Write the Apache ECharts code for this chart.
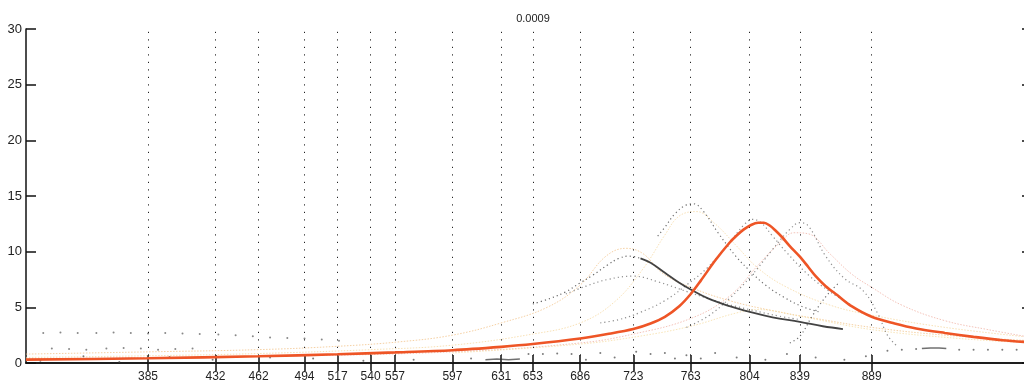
<!DOCTYPE html>
<html>
<head>
<meta charset="utf-8">
<script src="https://cdn.jsdelivr.net/npm/echarts@6/dist/echarts.min.js"></script>
<style>html,body{margin:0;padding:0;background:#fff;}#c{width:1024px;height:385px;}</style>
</head>
<body>
<div id="c"></div>
<script>
// ---- data ----
var chartTitle = '0.0009';
var xTicks = [385, 432, 462, 494, 517, 540, 557, 597, 631, 653, 686, 723, 763, 804, 839, 889];
var xMin = 300, xMax = 1000;
var yMin = 0, yMax = 30, yStep = 5;

var redCurve = [[300,0.3],[385,0.42],[462,0.6],[517,0.78],[557,0.95],[597,1.15],[631,1.45],[653,1.7],[686,2.2],[705,2.6],[723,3.05],[735,3.55],[745,4.15],[755,5.1],[763,6.2],[770,7.4],[780,9.2],[790,10.8],[795,11.45],[800,12.0],[805,12.4],[810,12.6],[814,12.6],[818,12.35],[822,11.9],[827,11.25],[832,10.5],[839,9.55],[845,8.6],[850,7.8],[857,6.9],[865,6.1],[875,5.1],[889,4.15],[905,3.55],[920,3.1],[940,2.7],[960,2.35],[980,2.05],[1000,1.85]];

// faint black dotted traces
var blackA = [[653,5.3],[665,5.8],[676,6.4],[686,7.2],[695,7.9],[705,8.8],[713,9.4],[720,9.6],[728,9.4]];
var blackADense = [[728,9.4],[735,9.0],[745,8.1],[755,7.2],[763,6.6],[775,5.8],[790,5.1],[804,4.6],[820,4.1],[839,3.7],[855,3.3],[869,3.05]];
var blackA2 = [[676,6.2],[690,6.9],[705,7.5],[723,7.8],[740,7.3],[763,6.3],[785,5.4],[804,4.8],[825,4.2],[839,3.9]];
var blackB = [[740,11.4],[745,12.2],[752,13.4],[760,14.2],[765,14.3],[772,13.6],[782,11.7],[795,9.5],[804,8.3],[815,7.0],[828,5.9],[840,5.1],[852,4.6]];
var blackC = [[700,3.6],[713,3.9],[727,4.5],[745,5.6],[760,7.0],[775,8.6],[790,10.8],[800,12.4],[806,12.9],[812,12.6],[820,11.4],[830,9.9],[845,7.9],[860,6.4],[875,5.2]];
var blackD = [[760,3.2],[775,4.2],[790,5.8],[805,7.8],[820,10.2],[832,12.0],[839,12.6],[845,12.3],[857,9.6],[870,7.6],[883,6.5],[893,4.5],[900,2.5],[906,1.6]];
var blackE = [[832,1.8],[839,2.4],[848,4.3],[858,6.1],[867,7.3]];

// pale orange / yellow traces
var paleO1 = [[300,0.8],[385,1.0],[462,1.2],[517,1.5],[560,1.9],[597,2.5],[631,3.6],[663,5.0],[686,7.0],[704,9.6],[718,10.3],[730,9.8],[743,8.1],[763,6.8],[790,5.6],[820,4.7],[850,4.0],[889,3.2],[940,2.5],[1000,2.0]];
var paleO2 = [[300,0.5],[385,0.65],[462,0.85],[540,1.2],[597,1.6],[653,2.6],[686,3.6],[710,5.5],[730,8.5],[745,11.5],[755,13.2],[767,13.6],[780,12.5],[795,10.5],[810,8.5],[830,6.8],[860,5.2],[889,4.3],[940,3.2],[1000,2.3]];
var paleO3 = [[300,0.4],[462,0.6],[597,1.0],[686,1.8],[723,2.6],[763,4.0],[790,6.0],[810,8.8],[825,10.8],[835,11.7],[845,11.6],[860,9.8],[875,8.0],[889,6.8],[910,5.2],[940,3.8],[970,3.0],[1000,2.3]];
var paleO4 = [[597,0.9],[686,1.7],[727,2.4],[763,3.3],[795,4.5],[810,4.8],[839,4.2],[889,3.0],[950,2.2],[1000,1.8]];

// scattered dots
var dotsRowA = [[312,2.7],[324,2.75],[336,2.7],[349,2.7],[361,2.75],[373,2.7],[385,2.65],[397,2.7],[409,2.65],[421,2.6],[434,2.55],[446,2.5],[458,2.4],[470,2.3],[482,2.25],[494,2.2],[506,2.1],[518,2.0]];
var dotsRowB = [[318,1.3],[330,1.25],[342,1.2],[356,1.3],[368,1.35],[380,1.3],[392,1.2],[404,1.25],[416,1.3]];
var dotsBottom = [[310,0.2],[340,0.6],[365,0.1],[400,0.55],[430,0.3],[470,0.5],[500,0.4],[535,0.2],[570,0.3],[610,0.4],[650,0.8],[660,0.8],[670,0.85],[680,0.8],[690,0.3],[700,0.9],[710,0.5],[725,1.0],[735,0.8],[745,0.9],[752,0.4],[760,0.7],[770,0.4],[780,0.9],[795,0.5],[815,0.3],[830,0.8],[850,0.5],[870,0.3],[885,0.6],[900,1.1],[910,1.2],[920,1.25],[950,1.2],[960,1.2],[970,1.2],[980,1.2],[990,1.2],[1000,1.2]];
var denseBottom1 = [[620,0.3],[628,0.35],[636,0.3],[644,0.35]];
var denseBottom2 = [[924,1.3],[930,1.35],[936,1.35],[941,1.3]];

// ---- chart ----
var chart = echarts.init(document.getElementById('c'), null, {renderer: 'canvas'});
var FONT = 'Liberation Sans, Arial, sans-serif';
var axisLineStyle = {color: '#111', width: 1.5};

function dotted(name, data, color, opacity, width) {
  return {name: name, type: 'line', data: data, smooth: 0.4, showSymbol: false, silent: true,
    lineStyle: {color: color, width: width || 1.2, type: [1.2, 3], opacity: opacity}, z: 2};
}
function pale(name, data, color) {
  return {name: name, type: 'line', data: data, smooth: 0.4, showSymbol: false, silent: true,
    lineStyle: {color: color, width: 1, type: [1.5, 1.5], opacity: 0.8}, z: 1};
}

var option = {
  animation: false,
  backgroundColor: '#fff',
  title: {text: chartTitle, left: 528, top: 8, textAlign: 'center',
    textStyle: {fontFamily: FONT, fontSize: 11, fontWeight: 'normal', color: '#222'}},
  grid: {left: 26, width: 1005, top: 29, height: 334, containLabel: false, outerBoundsMode: 'none'},
  xAxis: [
    {type: 'value', min: xMin, max: xMax, position: 'bottom',
      axisLine: {show: true, lineStyle: axisLineStyle},
      axisTick: {show: true, inside: true, length: 8, customValues: xTicks, lineStyle: {color: '#111', width: 1.5}},
      axisLabel: {show: true, customValues: xTicks, margin: 8, fontFamily: FONT, fontSize: 12, color: '#222'},
      splitLine: {show: false}},
    {type: 'value', min: xMin, max: xMax, position: 'top',
      axisLine: {show: true, lineStyle: axisLineStyle},
      axisTick: {show: true, inside: true, length: 8, customValues: xTicks, lineStyle: {color: '#111', width: 1.5}},
      axisLabel: {show: false},
      splitLine: {show: false}}
  ],
  yAxis: [
    {type: 'value', min: yMin, max: yMax, interval: yStep, position: 'left',
      axisLine: {show: true, lineStyle: axisLineStyle},
      axisTick: {show: true, inside: true, length: 10, lineStyle: {color: '#111', width: 1.5}},
      axisLabel: {show: true, margin: 4, fontFamily: FONT, fontSize: 13, color: '#222'},
      splitLine: {show: false}},
    {type: 'value', min: yMin, max: yMax, interval: yStep, position: 'right',
      axisLine: {show: true, lineStyle: axisLineStyle},
      axisTick: {show: true, inside: true, length: 9, lineStyle: {color: '#111', width: 1.5}},
      axisLabel: {show: false},
      splitLine: {show: false}}
  ],
  series: [
    {name: 'grid', type: 'line', data: [], silent: true,
      markLine: {silent: true, symbol: ['none', 'none'], label: {show: false},
        lineStyle: {color: '#222', width: 1, type: [1.2, 6.3]},
        data: xTicks.map(function (v) { return {xAxis: v}; })}},
    pale('o1', paleO1, '#f3c48c'),
    pale('o2', paleO2, '#f6d9a4'),
    pale('o3', paleO3, '#f0b4a8'),
    pale('o4', paleO4, '#f6dfa8'),
    dotted('a', blackA, '#333', 0.75),
    dotted('a2', blackA2, '#444', 0.6),
    dotted('b', blackB, '#333', 0.7),
    dotted('c', blackC, '#444', 0.6),
    dotted('d', blackD, '#444', 0.6),
    dotted('e', blackE, '#333', 0.7),
    {name: 'aDense', type: 'line', data: blackADense, smooth: 0.4, showSymbol: false, silent: true,
      lineStyle: {color: '#222', width: 1.8, opacity: 0.85}, z: 3},
    {name: 'bd1', type: 'line', data: denseBottom1, showSymbol: false, silent: true,
      lineStyle: {color: '#333', width: 1.5, opacity: 0.7}},
    {name: 'bd2', type: 'line', data: denseBottom2, showSymbol: false, silent: true,
      lineStyle: {color: '#333', width: 1.5, opacity: 0.7}},
    {name: 'rowA', type: 'scatter', data: dotsRowA, symbolSize: 2, silent: true, itemStyle: {color: '#555', opacity: 0.7}},
    {name: 'rowB', type: 'scatter', data: dotsRowB, symbolSize: 2, silent: true, itemStyle: {color: '#555', opacity: 0.7}},
    {name: 'bottom', type: 'scatter', data: dotsBottom, symbolSize: 2, silent: true, itemStyle: {color: '#444', opacity: 0.7}},
    {name: 'red', type: 'line', data: redCurve, smooth: 0.3, showSymbol: false, silent: true,
      lineStyle: {color: '#ee5526', width: 2.6}, z: 5}
  ]
};
chart.setOption(option);
</script>
</body>
</html>
